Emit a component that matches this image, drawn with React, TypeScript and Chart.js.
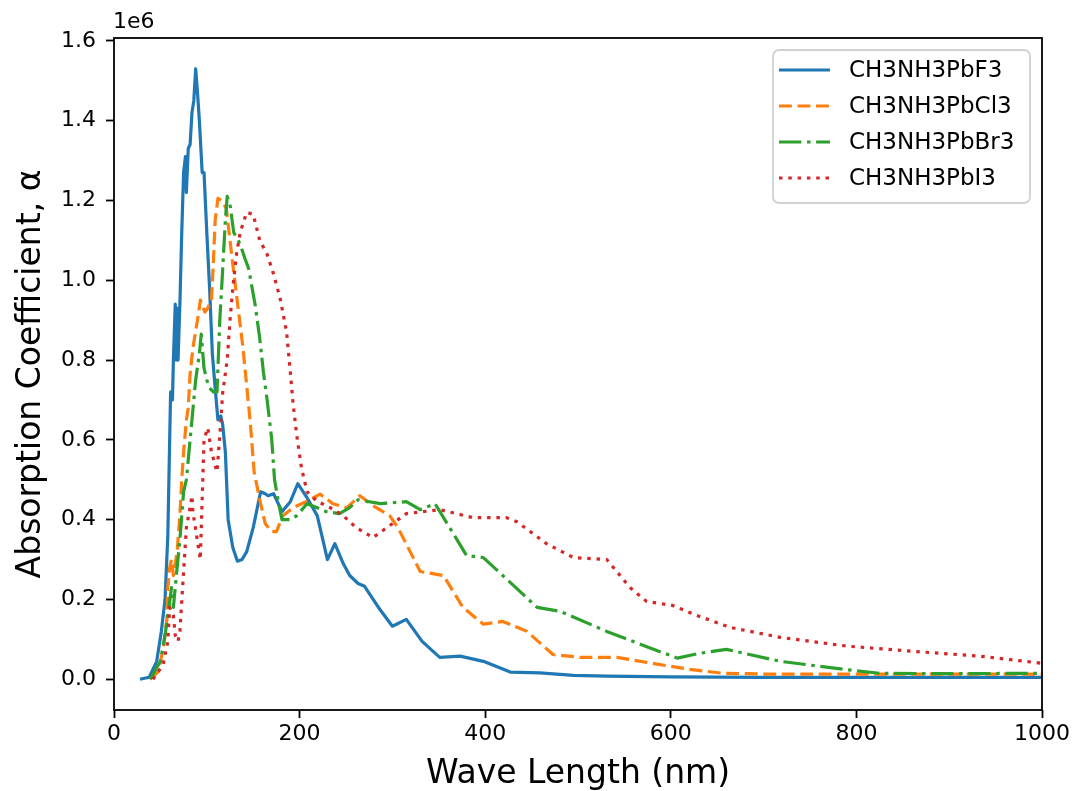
import React, { useEffect, useRef } from "react";
import { Chart, registerables } from "chart.js";

Chart.register(...registerables);

// ---- data (absorption coefficient in units of 1e6) ----
const seriesNames = ["CH3NH3PbF3", "CH3NH3PbCl3", "CH3NH3PbBr3", "CH3NH3PbI3"];

const pbF3X = [28, 38, 46, 51, 55, 58, 60, 61, 63, 64, 66, 67, 68, 69, 71, 73, 75, 77, 78, 80, 82, 84, 86, 88, 90, 92, 95, 97, 100, 103, 106, 109, 112, 115, 117, 120, 123, 128, 133, 138, 143, 150, 158, 163, 166, 172, 181, 190, 198, 208, 219, 230, 238, 247, 254, 263, 270, 285, 300, 315, 332, 351, 373, 398, 427, 459, 495, 531, 600, 700, 800, 1000];
const pbF3Y = [0, 0.005, 0.045, 0.12, 0.2, 0.36, 0.6, 0.72, 0.7, 0.8, 0.94, 0.8, 0.93, 0.8, 0.94, 1.12, 1.27, 1.31, 1.22, 1.33, 1.34, 1.42, 1.45, 1.53, 1.47, 1.4, 1.27, 1.27, 1.12, 0.98, 0.815, 0.73, 0.65, 0.66, 0.64, 0.57, 0.4, 0.33, 0.296, 0.3, 0.32, 0.38, 0.47, 0.465, 0.46, 0.465, 0.42, 0.445, 0.49, 0.455, 0.41, 0.3, 0.34, 0.29, 0.26, 0.24, 0.233, 0.18, 0.133, 0.15, 0.095, 0.055, 0.058, 0.045, 0.018, 0.016, 0.01, 0.008, 0.006, 0.005, 0.005, 0.005];

const pbCl3X = [39, 48, 53, 57, 58, 60, 62, 64, 68, 71, 73, 75, 78, 80, 82, 85, 91, 93, 98, 101, 105, 107, 109, 112, 116, 121, 128, 139, 147, 151, 157, 163, 170, 175, 182, 193, 208, 222, 236, 251, 265, 279, 297, 306, 330, 355, 376, 398, 419, 445, 473, 502, 542, 585, 620, 656, 700, 800, 1000];
const pbCl3Y = [0, 0.02, 0.078, 0.15, 0.23, 0.28, 0.3, 0.26, 0.32, 0.41, 0.5, 0.57, 0.65, 0.68, 0.765, 0.83, 0.915, 0.95, 0.92, 0.93, 0.95, 1.04, 1.15, 1.205, 1.2, 1.18, 1.04, 0.83, 0.64, 0.52, 0.45, 0.39, 0.37, 0.37, 0.41, 0.43, 0.446, 0.464, 0.44, 0.43, 0.46, 0.435, 0.41, 0.38, 0.27, 0.26, 0.18, 0.138, 0.145, 0.12, 0.062, 0.055, 0.055, 0.038, 0.025, 0.015, 0.013, 0.013, 0.013];

const pbBr3X = [39, 50, 55, 60, 62, 64, 68, 71, 75, 78, 82, 84, 88, 92, 94, 97, 100, 103, 107, 111, 114, 116, 118, 120, 122, 125, 129, 136, 141, 145, 152, 157, 161, 165, 170, 173, 177, 181, 190, 197, 208, 219, 229, 243, 254, 263, 287, 315, 330, 346, 380, 398, 456, 481, 531, 567, 607, 631, 660, 718, 786, 825, 900, 1000];
const pbBr3Y = [0, 0.045, 0.11, 0.195, 0.23, 0.18, 0.28, 0.35, 0.47, 0.5, 0.6, 0.65, 0.75, 0.815, 0.865, 0.78, 0.75, 0.73, 0.72, 0.72, 0.9, 0.98, 1.065, 1.15, 1.21, 1.19, 1.12, 1.09, 1.055, 1.03, 0.94, 0.855, 0.77, 0.7, 0.6, 0.5, 0.446, 0.4, 0.4, 0.41, 0.44, 0.43, 0.42, 0.415, 0.43, 0.45, 0.44, 0.445, 0.425, 0.44, 0.31, 0.305, 0.18, 0.17, 0.12, 0.088, 0.053, 0.065, 0.075, 0.045, 0.025, 0.015, 0.014, 0.015];

const pbI3X = [42, 53, 58, 60, 64, 66, 69, 71, 75, 78, 82, 84, 85, 89, 93, 97, 101, 105, 111, 114, 117, 122, 125, 128, 132, 136, 143, 150, 157, 165, 172, 179, 186, 190, 193, 197, 202, 208, 219, 233, 247, 261, 279, 297, 315, 351, 387, 423, 434, 466, 495, 531, 556, 574, 602, 628, 664, 718, 790, 861, 933, 1000];
const pbI3Y = [0, 0.037, 0.095, 0.18, 0.16, 0.11, 0.095, 0.12, 0.27, 0.38, 0.43, 0.46, 0.42, 0.36, 0.3, 0.6, 0.63, 0.57, 0.52, 0.61, 0.715, 0.8, 0.9, 0.98, 1.065, 1.12, 1.17, 1.165, 1.1, 1.065, 1.015, 0.955, 0.87, 0.77, 0.69, 0.61, 0.53, 0.47, 0.446, 0.43, 0.41, 0.38, 0.355, 0.385, 0.415, 0.425, 0.405, 0.405, 0.395, 0.34, 0.305, 0.3, 0.23, 0.195, 0.185, 0.16, 0.13, 0.105, 0.083, 0.07, 0.058, 0.04];

const xTicks = [0, 200, 400, 600, 800, 1000];
const yTicks = [0, 0.2, 0.4, 0.6, 0.8, 1.0, 1.2, 1.4, 1.6];
const yOffsetLabel = "1e6";
const xTitle = "Wave Length (nm)";
const yTitle = "Absorption Coefficient, α";

const colors = ["#1f77b4", "#ff7f0e", "#2ca02c", "#d62728"];
const dashes: number[][] = [[], [12.9, 5.6], [22.4, 5.6, 3.5, 5.6], [3.5, 5.8]];

const FONT = '"DejaVu Sans", sans-serif';

const toPoints = (xs: number[], ys: number[]) => xs.map((x, i) => ({ x, y: ys[i] }));

const decorPlugin = {
  id: "decor",
  afterDatasetsDraw(chart: any) {
    const { ctx, chartArea } = chart;
    const { left, right, top, bottom } = chartArea;
    ctx.save();
    // axes frame
    ctx.strokeStyle = "#000";
    ctx.lineWidth = 1.8;
    ctx.setLineDash([]);
    ctx.strokeRect(left, top, right - left, bottom - top);
    // offset text
    ctx.fillStyle = "#000";
    ctx.font = `22px ${FONT}`;
    ctx.textAlign = "left";
    ctx.textBaseline = "alphabetic";
    ctx.fillText(yOffsetLabel, left - 1, top - 10);
    // legend
    const bx = right - 269;
    const by = top + 12;
    const bw = 257;
    const bh = 153;
    ctx.beginPath();
    if ((ctx as any).roundRect) (ctx as any).roundRect(bx, by, bw, bh, 6);
    else ctx.rect(bx, by, bw, bh);
    ctx.fillStyle = "rgba(255,255,255,0.8)";
    ctx.fill();
    ctx.strokeStyle = "rgba(204,204,204,0.9)";
    ctx.lineWidth = 1.8;
    ctx.stroke();
    ctx.font = `23px ${FONT}`;
    ctx.textBaseline = "middle";
    seriesNames.forEach((name, i) => {
      const cy = by + 20 + i * 36;
      ctx.beginPath();
      ctx.strokeStyle = colors[i];
      ctx.lineWidth = 3.2;
      ctx.lineCap = "butt";
      ctx.setLineDash(dashes[i]);
      ctx.moveTo(bx + 6, cy);
      ctx.lineTo(bx + 57, cy);
      ctx.stroke();
      ctx.setLineDash([]);
      ctx.fillStyle = "#000";
      ctx.fillText(name, bx + 76, cy + 1);
    });
    ctx.restore();
  },
};

export default function App() {
  const canvasRef = useRef<HTMLCanvasElement | null>(null);

  useEffect(() => {
    const canvas = canvasRef.current;
    if (!canvas) return;
    const xsList = [pbF3X, pbCl3X, pbBr3X, pbI3X];
    const ysList = [pbF3Y, pbCl3Y, pbBr3Y, pbI3Y];
    const datasets = seriesNames.map((name, i) => ({
      label: name,
      data: toPoints(xsList[i], ysList[i]),
      borderColor: colors[i],
      backgroundColor: colors[i],
      borderWidth: 3.2,
      borderDash: dashes[i],
      borderCapStyle: "butt" as const,
      borderJoinStyle: "round" as const,
      pointRadius: 0,
      pointHoverRadius: 0,
      tension: 0,
      fill: false,
      order: 3 - i,
    }));

    const chart = new Chart(canvas, {
      type: "line",
      data: { datasets },
      plugins: [decorPlugin],
      options: {
        animation: false,
        responsive: false,
        events: [],
        layout: { padding: { left: 0, right: 33, top: 38, bottom: 0 } },
        plugins: {
          legend: { display: false },
          tooltip: { enabled: false },
          title: { display: false },
        },
        scales: {
          x: {
            type: "linear",
            min: 0,
            max: 1000,
            afterBuildTicks: (scale: any) => {
              scale.ticks = xTicks.map((v) => ({ value: v }));
            },
            afterFit: (scale: any) => {
              scale.height = 81;
            },
            grid: {
              drawOnChartArea: false,
              drawTicks: true,
              tickLength: 8,
              tickWidth: 1.8,
              tickColor: "#000",
            },
            border: { display: false },
            ticks: {
              color: "#000",
              font: { family: FONT, size: 22 },
              padding: 3,
              maxRotation: 0,
              autoSkip: false,
              callback: (v: any) => String(v),
            },
            title: {
              display: true,
              text: xTitle,
              color: "#000",
              font: { family: FONT, size: 33, lineHeight: 1 },
              padding: { top: 0, bottom: 0 },
            },
          },
          y: {
            type: "linear",
            min: -0.077,
            max: 1.607,
            afterBuildTicks: (scale: any) => {
              scale.ticks = yTicks.map((v) => ({ value: v }));
            },
            afterFit: (scale: any) => {
              scale.width = 114;
            },
            grid: {
              drawOnChartArea: false,
              drawTicks: true,
              tickLength: 8,
              tickWidth: 1.8,
              tickColor: "#000",
            },
            border: { display: false },
            ticks: {
              color: "#000",
              font: { family: FONT, size: 22 },
              padding: 10,
              autoSkip: false,
              callback: (v: any) => Number(v).toFixed(1),
            },
            title: {
              display: true,
              text: yTitle,
              color: "#000",
              font: { family: FONT, size: 33, lineHeight: 1 },
              padding: { top: 15, bottom: 0 },
            },
          },
        },
      },
    });
    return () => chart.destroy();
  }, []);

  return (
    <div style={{ position: "fixed", left: 0, top: 0, width: 1075, height: 791, background: "#fff" }}>
      <canvas ref={canvasRef} width={1075} height={791} style={{ display: "block" }} />
    </div>
  );
}
